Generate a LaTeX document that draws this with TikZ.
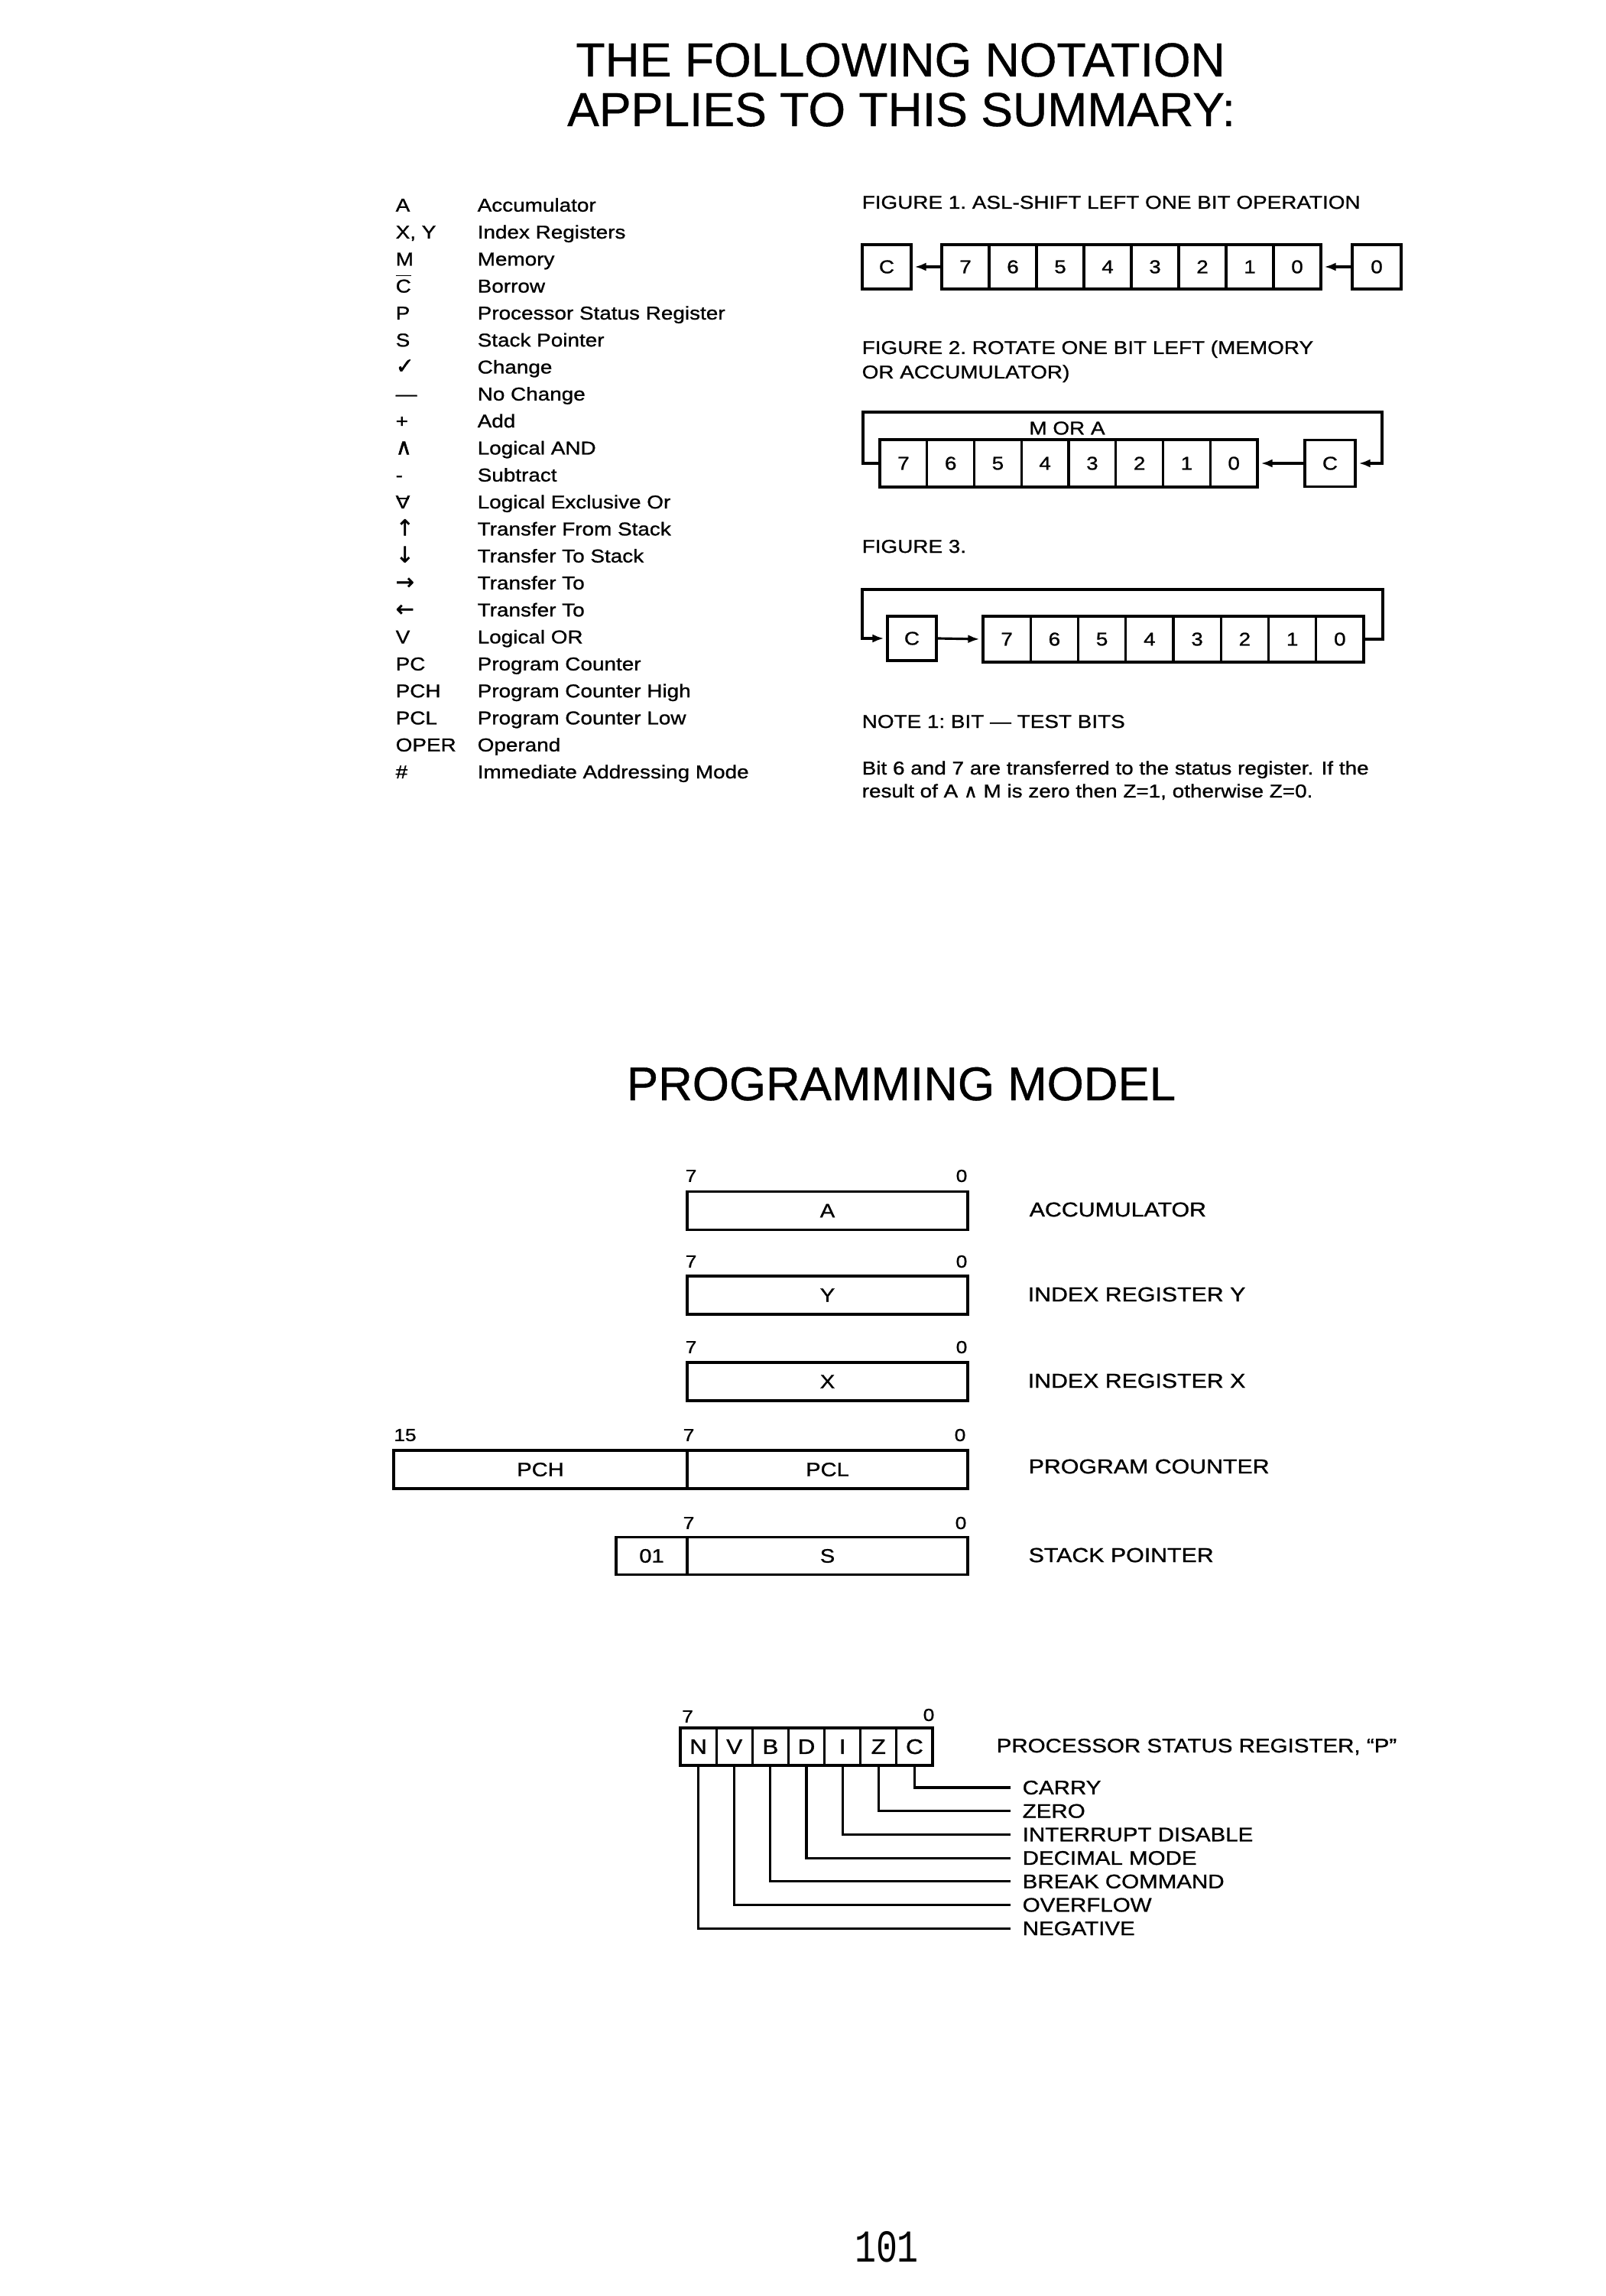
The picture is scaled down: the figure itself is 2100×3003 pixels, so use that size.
\documentclass[tikz,border=0pt]{standalone}
\usepackage{fontspec}
\setmainfont{Liberation Sans}
\newfontfamily\widef[FakeStretch=1.15,FakeBold=1.0]{Liberation Sans}
\newfontfamily\bigf[FakeBold=0.6]{Liberation Sans}
\newfontfamily\symf[FakeBold=1.5]{DejaVu Sans}
\newfontfamily\monof[FakeStretch=0.78]{Liberation Mono}
\usetikzlibrary{arrows.meta}
\newcommand\xorsym{\ooalign{V\cr\hidewidth\rule[0.95ex]{0.62em}{0.13ex}\hidewidth\cr}}
\newcommand\cbarsym{\ensuremath{\overline{\hbox{C}}}}
\newcommand\bigsym[1]{{\symf\fontsize{8.2}{9}\selectfont #1}}
\begin{document}
\begin{tikzpicture}[x=0.1mm,y=-0.1mm,
  every node/.style={inner sep=0pt},
  ln/.style={line width=0.9pt},
  arr/.style={ln,-{Latex[length=1.5mm,width=1.1mm]},shorten >=0.3mm},
  body/.style={font=\widef\fontsize{6.9}{8}\selectfont},
  leg/.style={body,anchor=base west},
  cell/.style={draw,ln,minimum height=5.8mm,minimum width=6.2mm,body},
  big/.style={font=\bigf\fontsize{17.8}{20}\selectfont,anchor=base},
  mlab/.style={anchor=west,font=\widef\fontsize{7.5}{9}\selectfont},
  bitno/.style={font=\widef\fontsize{6.5}{8}\selectfont},
  reg/.style={draw,ln,minimum height=5mm,font=\widef\fontsize{7.2}{9}\selectfont},
  stc/.style={draw,ln,minimum height=4.9mm,minimum width=4.714mm,font=\widef\fontsize{7.8}{9}\selectfont},
  slab/.style={anchor=west,inner xsep=1.5mm,font=\widef\fontsize{7.3}{9}\selectfont},
]
\fill[white] (0,0) rectangle (2100,3003);
\useasboundingbox (0,0) rectangle (2100,3003);

% ---------- title ----------
\node[big] (t1) at (1178,100) {THE FOLLOWING NOTATION};
\node[big] (t2) at (1179,165) {APPLIES TO THIS SUMMARY:};

% ---------- legend ----------
\node[leg] (s0)  at (517,276.7)  {A};
\node[leg] (s1)  at (517,312.0)  {X, Y};
\node[leg] (s2)  at (517,347.3)  {M};
\node[leg] (s3)  at (517,382.6)  {\cbarsym};
\node[leg] (s4)  at (517,417.9)  {P};
\node[leg] (s5)  at (517,453.2)  {S};
\node[leg] (s6)  at (517,488.5)  {\bigsym{✓}};
\node[leg] (s7)  at (517,523.8)  {—};
\node[leg] (s8)  at (517,559.1)  {+};
\node[leg] (s9)  at (517,594.4)  {\bigsym{∧}};
\node[leg] (s10) at (517,629.7)  {-};
\node[leg] (s11) at (517,665.0)  {\xorsym};
\node[leg] (s12) at (517,700.3)  {\bigsym{↑}};
\node[leg] (s13) at (517,735.6)  {\bigsym{↓}};
\node[leg] (s14) at (517,770.9)  {\bigsym{→}};
\node[leg] (s15) at (517,806.2)  {\bigsym{←}};
\node[leg] (s16) at (517,841.5)  {V};
\node[leg] (s17) at (517,876.8)  {PC};
\node[leg] (s18) at (517,912.1)  {PCH};
\node[leg] (s19) at (517,947.4)  {PCL};
\node[leg] (s20) at (517,982.7)  {OPER};
\node[leg] (s21) at (517,1018.0) {\#};

\node[leg] (d0)  at (624,276.7)  {Accumulator};
\node[leg] (d1)  at (624,312.0)  {Index Registers};
\node[leg] (d2)  at (624,347.3)  {Memory};
\node[leg] (d3)  at (624,382.6)  {Borrow};
\node[leg] (d4)  at (624,417.9)  {Processor Status Register};
\node[leg] (d5)  at (624,453.2)  {Stack Pointer};
\node[leg] (d6)  at (624,488.5)  {Change};
\node[leg] (d7)  at (624,523.8)  {No Change};
\node[leg] (d8)  at (624,559.1)  {Add};
\node[leg] (d9)  at (624,594.4)  {Logical AND};
\node[leg] (d10) at (624,629.7)  {Subtract};
\node[leg] (d11) at (624,665.0)  {Logical Exclusive Or};
\node[leg] (d12) at (624,700.3)  {Transfer From Stack};
\node[leg] (d13) at (624,735.6)  {Transfer To Stack};
\node[leg] (d14) at (624,770.9)  {Transfer To};
\node[leg] (d15) at (624,806.2)  {Transfer To};
\node[leg] (d16) at (624,841.5)  {Logical OR};
\node[leg] (d17) at (624,876.8)  {Program Counter};
\node[leg] (d18) at (624,912.1)  {Program Counter High};
\node[leg] (d19) at (624,947.4)  {Program Counter Low};
\node[leg] (d20) at (624,982.7)  {Operand};
\node[leg] (d21) at (624,1018.0) {Immediate Addressing Mode};

% ---------- figure 1 ----------
\node[leg] (f1t) at (1127,273) {FIGURE 1.\ ASL-SHIFT LEFT ONE BIT OPERATION};
\node[cell,minimum width=6.4mm] (f1c) at (1160,349) {C};
\foreach \k in {0,...,7}{
  \pgfmathtruncatemacro\b{7-\k}
  \node[cell] (f1b\b) at ({1263+62*\k},349) {\b};
}
\node[cell,minimum width=6.4mm] (f1z) at (1801,349) {0};
\draw[arr] (f1b7.west) -- (f1c.east);
\draw[arr] (f1z.west) -- (f1b0.east);

% ---------- figure 2 ----------
\node[leg] (f2t1) at (1127,463) {FIGURE 2.\ ROTATE ONE BIT LEFT (MEMORY};
\node[leg] (f2t2) at (1127,495) {OR ACCUMULATOR)};
\node[body] (f2m) at (1396,560) {M OR A};
\foreach \k in {0,...,7}{
  \pgfmathtruncatemacro\b{7-\k}
  \node[cell,minimum width=6.175mm,minimum height=6.2mm] (f2b\b) at ({1181.9+61.75*\k},606) {\b};
}
\node[cell,minimum width=6.6mm,minimum height=6.1mm] (f2c) at (1740,606) {C};
\coordinate (f2tl) at (1129,539);
\coordinate (f2tr) at (1808,539);
\draw[arr] (f2b7.west) -| (f2tl) -- (f2tr) |- (f2c.east);
\draw[arr] (f2c.west) -- (f2b0.east);

% ---------- figure 3 ----------
\node[leg] (f3t) at (1127,723) {FIGURE 3.};
\node[cell,minimum width=6.4mm] (f3c) at (1193,835) {C};
\foreach \k in {0,...,7}{
  \pgfmathtruncatemacro\b{7-\k}
  \node[cell,minimum width=6.225mm,minimum height=6mm] (f3b\b) at ({1317.1+62.25*\k},836) {\b};
}
\coordinate (f3tl) at (1128,771);
\coordinate (f3tr) at (1809,771);
\draw[arr] (f3b0.east) -| (f3tr) -- (f3tl) |- (f3c.west);
\draw[arr] (f3c.east) -- (f3b7.west);

% ---------- note ----------
\node[leg] (n1) at (1127,952) {NOTE 1:\ BIT — TEST BITS};
\node[leg] (n2) at (1127,1013) {Bit 6 and 7 are transferred to the status register. If the};
\node[leg] (n3) at (1127,1043) {result of A {\symf ∧} M is zero then Z=1, otherwise Z=0.};

% ---------- programming model ----------
\node[big,font=\bigf\fontsize{17.6}{20}\selectfont] (pm) at (1179,1439) {PROGRAMMING MODEL};

\node[reg,minimum width=36.7mm] (ra) at (1082.5,1583.5) {A};
\node[bitno] (ra7) at (904,1538) {7};
\node[bitno] (ra0) at (1258,1538) {0};
\node[mlab] (la) at (1346,1582) {ACCUMULATOR};

\node[reg,minimum width=36.7mm] (ry) at (1082.5,1694) {Y};
\node[bitno] (ry7) at (904,1650) {7};
\node[bitno] (ry0) at (1258,1650) {0};
\node[mlab] (ly) at (1344,1693) {INDEX REGISTER Y};

\node[reg,minimum width=36.7mm] (rx) at (1082.5,1807) {X};
\node[bitno] (rx7) at (904,1762) {7};
\node[bitno] (rx0) at (1258,1762) {0};
\node[mlab] (lx) at (1344,1806) {INDEX REGISTER X};

\node[reg,minimum width=38.4mm] (rpch) at (707,1922) {PCH};
\node[reg,minimum width=36.7mm] (rpcl) at (1082.5,1922) {PCL};
\node[bitno] (rp15) at (530,1877) {15};
\node[bitno] (rp7) at (901,1877) {7};
\node[bitno] (rp0) at (1256,1877) {0};
\node[mlab] (lpc) at (1345,1918) {PROGRAM COUNTER};

\node[reg,minimum width=9.3mm,minimum height=4.9mm] (r01) at (852.5,2035) {01};
\node[reg,minimum width=36.7mm,minimum height=4.9mm] (rs) at (1082.5,2035) {S};
\node[bitno] (rs7) at (901,1992) {7};
\node[bitno] (rs0) at (1257,1992) {0};
\node[mlab] (lsp) at (1345,2034) {STACK POINTER};

% ---------- status register ----------
\foreach \l [count=\k from 0] in {N,V,B,D,I,Z,C}{
  \node[stc] (s\l) at ({913.57+47.14*\k},2284.5) {\l};
}
\node[bitno] (sp7) at (899.5,2245) {7};
\node[bitno] (sp0) at (1215,2243) {0};
\node[anchor=base west,font=\widef\fontsize{7.3}{9}\selectfont] (lpsr) at (1303,2292) {PROCESSOR STATUS REGISTER, “P”};

\node[slab] (lc) at (1322,2338.0) {CARRY};
\node[slab] (lz) at (1322,2368.7) {ZERO};
\node[slab] (li) at (1322,2399.4) {INTERRUPT DISABLE};
\node[slab] (ld) at (1322,2430.1) {DECIMAL MODE};
\node[slab] (lb) at (1322,2460.8) {BREAK COMMAND};
\node[slab] (lv) at (1322,2491.5) {OVERFLOW};
\node[slab] (ln) at (1322,2522.2) {NEGATIVE};
\draw[ln] (sC.south) |- (lc.west);
\draw[ln] (sZ.south) |- (lz.west);
\draw[ln] (sI.south) |- (li.west);
\draw[ln] (sD.south) |- (ld.west);
\draw[ln] (sB.south) |- (lb.west);
\draw[ln] (sV.south) |- (lv.west);
\draw[ln] (sN.south) |- (ln.west);

% ---------- page number ----------
\node[font=\monof\fontsize{17}{19}\selectfont,anchor=base] (pg) at (1160,2958) {101};
\end{tikzpicture}
\end{document}
